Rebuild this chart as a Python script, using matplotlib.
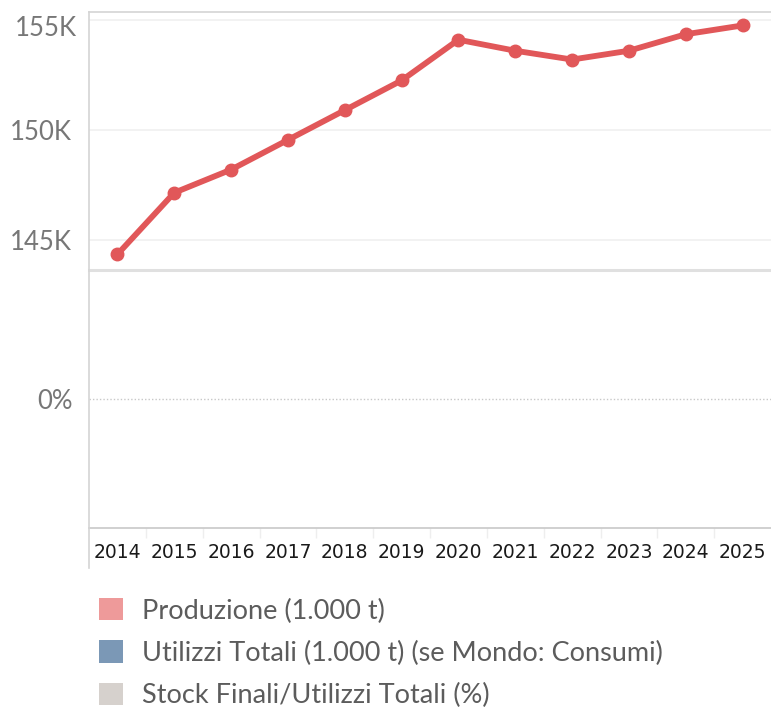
import numpy as np
import matplotlib.pyplot as plt
from matplotlib.patches import Patch
from matplotlib.lines import Line2D

# dati
anni = ['2014', '2015', '2016', '2017', '2018', '2019',
        '2020', '2021', '2022', '2023', '2024', '2025']
produzione = [144.35, 147.15, 148.2, 149.55, 150.9, 152.25,
              154.1, 153.6, 153.2, 153.6, 154.35, 154.75]  # migliaia di (1.000 t)
y_ticks = [145, 150, 155]
y_tick_labels = ['145K', '150K', '155K']
legenda = ['Produzione (1.000 t)',
           'Utilizzi Totali (1.000 t) (se Mondo: Consumi)',
           'Stock Finali/Utilizzi Totali (%)']
colori_legenda = ['#ee9a9a', '#7b98b6', '#d6d1cd']

W, H = 771, 708
fig = plt.figure(figsize=(W / 100, H / 100), dpi=100)

x0, x1 = 89 / W, 1.0
ax1 = fig.add_axes([x0, 1 - 270 / H, x1 - x0, (270 - 12) / H])
ax2 = fig.add_axes([x0, 1 - 528 / H, x1 - x0, (528 - 270) / H], sharex=ax1)
ax2.patch.set_visible(False)

x = np.arange(len(anni))
ax1.plot(x, produzione, color='#e15759', linewidth=4.2, marker='o',
         markersize=9, solid_capstyle='round', zorder=3, clip_on=False)
ax1.set_xlim(-0.5, len(anni) - 0.5)
ax1.set_ylim(143.64, 155.36)
ax1.set_yticks(y_ticks)
# l'etichetta più alta sta un po' sotto la sua griglia, come nell'originale
ax1.set_yticklabels(y_tick_labels[:-1] + [''], fontfamily='Lato',
                    fontsize=18.5, color='#777777')
ax1.annotate(y_tick_labels[-1], xy=(0, y_ticks[-1]),
             xycoords=ax1.get_yaxis_transform(), xytext=(-12, -9),
             textcoords='offset pixels', ha='right', va='center',
             fontfamily='Lato', fontsize=18.5, color='#777777')
ax1.grid(axis='y', color='#f0f0f0', linewidth=1.2)
ax1.tick_params(axis='y', length=0, pad=12)
ax1.tick_params(axis='x', which='both', length=0, labelbottom=False)
ax1.spines['right'].set_visible(False)
ax1.spines['left'].set_visible(False)
ax1.spines['top'].set_color('#d4d4d4')
ax1.spines['top'].set_linewidth(1.2)
ax1.spines['bottom'].set_color('#e0e0e0')
ax1.spines['bottom'].set_linewidth(2.2)

ax2.set_ylim(-1, 1)
ax2.set_yticks([0])
ax2.set_yticklabels(['0%'], fontfamily='Lato', fontsize=18.5, color='#777777')
ax2.axhline(0, color='#c8c8c8', linewidth=1.0, linestyle=(0, (1, 1.5)))
ax2.tick_params(axis='y', length=0, pad=12)
ax2.spines['right'].set_visible(False)
ax2.spines['top'].set_visible(False)
ax2.spines['left'].set_visible(False)
ax2.spines['bottom'].set_color('#c8c8c8')
ax2.spines['bottom'].set_linewidth(1.2)
ax2.set_xticks(x)
ax2.set_xticklabels(anni, fontfamily='DejaVu Sans', fontsize=13.5, color='#1a1a1a')
ax2.set_xticks(x[:-1] + 0.5, minor=True)
ax2.tick_params(axis='x', which='major', length=0, pad=11)
ax2.tick_params(axis='x', which='minor', length=7, color='#eeeeee', width=1)

# bordo sinistro che scende fino alle etichette degli anni
fig.add_artist(Line2D([89 / W, 89 / W], [1 - 12 / H, 1 - 568 / H],
                      color='#d4d4d4', linewidth=1.2))

handles = [Patch(facecolor=c, edgecolor='none') for c in colori_legenda]
fig.legend(handles, legenda, loc='upper left', bbox_to_anchor=(80 / W, 1 - 579 / H),
           frameon=False, prop={'family': 'Lato', 'size': 19.5},
           labelcolor='#5c5c5c', handlelength=0.9, handleheight=0.9,
           handletextpad=0.7, labelspacing=0.62, borderpad=0.2)

fig.savefig('out.png', dpi=100)
